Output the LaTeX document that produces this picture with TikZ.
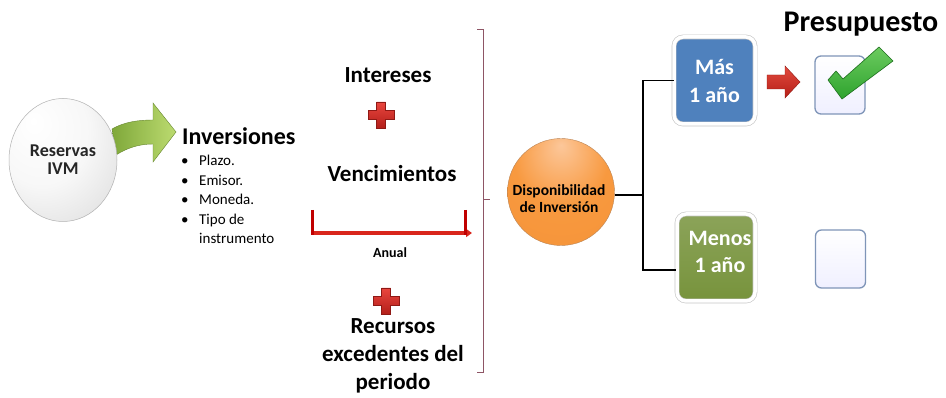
\documentclass[tikz,border=0pt]{standalone}
\usepackage{fontspec}
\setmainfont{Carlito}
\usetikzlibrary{shapes.geometric,arrows.meta}
\definecolor{boxblue}{HTML}{4F81BD}
\definecolor{boxgreen}{HTML}{77933C}
\definecolor{orL}{HTML}{FCC79A}
\definecolor{orM}{HTML}{F8993F}
\definecolor{orD}{HTML}{E0700E}
\definecolor{crossT}{HTML}{E9463E}
\definecolor{crossB}{HTML}{B31F1A}
\definecolor{braceC}{HTML}{8E5565}
\definecolor{chkB}{HTML}{7F95B8}
\definecolor{arrL}{HTML}{7FA83A}
\definecolor{arrR}{HTML}{BCDB70}
\definecolor{tickG}{HTML}{2EA32E}
\definecolor{tickGL}{HTML}{6CCB5F}
\definecolor{tickGD}{HTML}{1D6E1D}
\definecolor{redL}{HTML}{E24A3E}
\definecolor{redD}{HTML}{B51F18}
\definecolor{lineRed}{HTML}{D9261C}
\definecolor{tickRed}{HTML}{C00000}
\pgfdeclareradialshading{grayball}{\pgfpoint{-14bp}{16bp}}{color(0bp)=(white); color(22bp)=(white!97!black); color(45bp)=(black!14); color(62bp)=(black!28); color(75bp)=(black!36)}
\pgfdeclareradialshading{orangeball}{\pgfpoint{0bp}{22bp}}{color(0bp)=(orL); color(22bp)=(orM); color(55bp)=(orM!80!orD); color(72bp)=(orD)}
\newcommand\mybul{\makebox[18pt][l]{\textbullet}}
\tikzset{
  pics/redcross/.style={code={
    \path[top color=crossT, bottom color=crossB, draw=crossB!80!black, line width=0.4pt]
      (-4.5,-13) -- (4.5,-13) -- (4.5,-4.5) -- (13,-4.5) -- (13,4.5) -- (4.5,4.5) -- (4.5,13)
      -- (-4.5,13) -- (-4.5,4.5) -- (-13,4.5) -- (-13,-4.5) -- (-4.5,-4.5) -- cycle;}},
  bigtxt/.style={anchor=base, font=\bfseries\fontsize{23}{28}\selectfont},
  yearbox/.style={rounded corners=9pt, draw=gray!45, line width=0.6pt, double=white,
    double distance=3.5pt, text=white, font=\bfseries\fontsize{22}{28}\selectfont, align=center},
  chkbox/.style={rounded corners=6pt, draw=chkB, line width=1.3pt, top color=white, bottom color=blue!6,
    minimum width=50pt, minimum height=58pt},
  conn/.style={draw=black, line width=1.6pt},
  bracestyle/.style={draw=braceC, line width=1pt},
}
\begin{document}
\begin{tikzpicture}[x=1pt,y=-1pt, every node/.style={inner sep=0pt}]
\useasboundingbox (0,0) rectangle (946,398);
\fill[white] (0,0) rectangle (946,398);

% green curved arrow
\path[left color=arrL, right color=arrR, draw=arrL!80!black, line width=0.4pt]
  (112,129) .. controls (124,122) and (138,120) .. (153,120) -- (153,103) -- (176,132)
  -- (153,162) -- (153,144) .. controls (139,144) and (127,148) .. (116,155) -- cycle;

% Reservas IVM
\node[ellipse, minimum width=108pt, minimum height=123pt, shading=grayball, draw=black!30,
  line width=0.5pt, align=center, font=\bfseries\fontsize{18}{18}\selectfont, text=black!85]
  (res) at (63,160) {Reservas\\IVM};

% Inversiones
\node[anchor=base west, font=\bfseries\fontsize{24}{28}\selectfont] (inv) at (182,145) {Inversiones};
\node[anchor=base west, font=\fontsize{15}{19.5}\selectfont] (bul) at (181,166)
  {\begin{tabular}[t]{@{}l@{}}\mybul Plazo.\\ \mybul Emisor.\\ \mybul Moneda.\\ \mybul Tipo de\\ \makebox[18pt]{}instrumento\end{tabular}};

% middle column
\node[bigtxt] (int) at (388,83) {Intereses};
\pic at (381,115) {redcross};
\node[bigtxt] (ven) at (392,182) {Vencimientos};
\coordinate (tl) at (312,233);
\coordinate (tr) at (472,233);
\draw[lineRed, line width=4pt, -{Triangle[length=6pt,width=8pt]}] (tl) -- (tr);
\draw[tickRed, line width=3pt] (312,210) -- (312,235);
\draw[tickRed, line width=3pt] (465,210) -- (465,235);
\node[anchor=base, font=\bfseries\fontsize{14}{16}\selectfont] (anual) at (390,258) {Anual};
\pic at (386,301) {redcross};
\node[anchor=base, font=\bfseries\fontsize{23}{28}\selectfont] (rec) at (393,334)
  {\begin{tabular}[t]{@{}c@{}}Recursos\\excedentes del\\periodo\end{tabular}};

% brace
\draw[bracestyle] (477,30) -- (483,30) -- (483,372) -- (477,372);
\draw[bracestyle] (483,200) -- (490,200);

% Disponibilidad sphere
\node[circle, minimum size=107pt, shading=orangeball, draw=orD!70!black!70, line width=0.4pt] (disp) at (561,192) {};
\node[anchor=base, font=\bfseries\fontsize{15.5}{17}\selectfont] (dispT) at (559,196)
  {\begin{tabular}[t]{@{}c@{}}Disponibilidad\\de Inversión\end{tabular}};

% boxes
\node[yearbox, fill=boxblue, minimum width=81pt, minimum height=87pt] (mas) at (714.5,80.5) {Más\\1 año};
\node[yearbox, top color=boxgreen!85!white, bottom color=boxgreen, minimum width=78pt, minimum height=87pt] (menos) at (716,257.5) {};
\node[anchor=base, font=\bfseries\fontsize{22}{27}\selectfont, text=white] (menosT) at (720,246)
  {\begin{tabular}[t]{@{}c@{}}Menos\\1 año\end{tabular}};

% connectors
\coordinate (j) at (643,195);
\coordinate (mlow) at (676,270);
\draw[conn] (disp.east |- j) -- (j);
\draw[conn] (mas.west) -| (j);
\draw[conn] (j) |- (mlow);

% red arrow
\path[top color=redL, bottom color=redD, draw=redD!80!black, line width=0.4pt]
  (767,75) -- (785,75) -- (785,66) -- (800,82) -- (785,98) -- (785,89) -- (767,89) -- cycle;

% checkboxes
\node[chkbox] (chk1) at (840,85) {};
\node[chkbox] (chk2) at (840.5,259) {};
\path[top color=tickGL, bottom color=tickG, draw=tickGD, line width=0.6pt]
  (828,80) -- (836,71) -- (843,79) -- (879,47) -- (893,61) -- (842,99) -- cycle;

\node[anchor=base, font=\bfseries\fontsize{30}{32}\selectfont] (pres) at (861,32) {Presupuesto};
\end{tikzpicture}
\end{document}
